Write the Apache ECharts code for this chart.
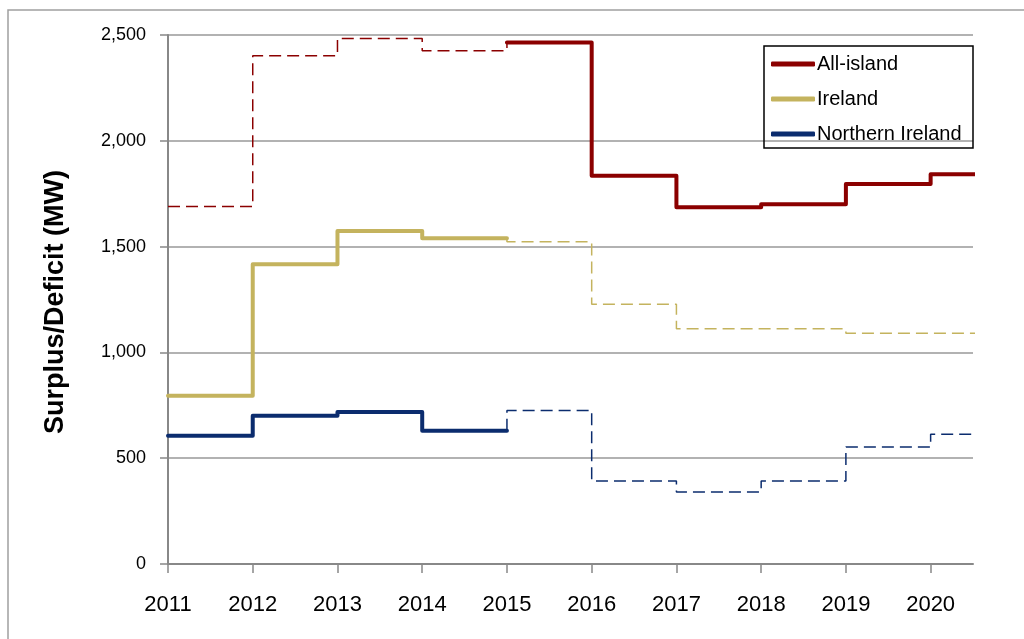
<!DOCTYPE html>
<html>
<head>
<meta charset="utf-8">
<script src="https://cdn.jsdelivr.net/npm/echarts@6/dist/echarts.min.js"></script>
<style>
html,body{margin:0;padding:0;background:#fff;}
#chart{width:1024px;height:639px;}
</style>
</head>
<body>
<div id="chart"></div>
<script>
// ---- data ----
const years = [2011, 2012, 2013, 2014, 2015, 2016, 2017, 2018, 2019, 2020];
const allIsland = [1689, 2402, 2484, 2426, 2464, 1835, 1686, 1700, 1796, 1842];
const ireland = [795, 1416, 1574, 1539, 1523, 1227, 1112, 1112, 1090, 1090];
const northernIreland = [606, 701, 718, 630, 726, 392, 340, 392, 553, 613];
const yTicks = [0, 500, 1000, 1500, 2000, 2500];
const seriesNames = ['All-island', 'Ireland', 'Northern Ireland'];
const splitYear = 2015;   // style changes here
const endYear = 2021;     // last step runs to the end of 2020
const yTitle = 'Surplus/Deficit (MW)';

const colors = ['#8B0000', '#C4B35E', '#0B2C6E'];

function points(vals) {
  const p = years.map((y, i) => [y, vals[i]]);
  p.push([endYear, vals[vals.length - 1]]);
  return p;
}
// split a step series at splitYear; verticalFirst: vertical jump belongs to first part
function split(vals, verticalFirst) {
  const p = points(vals);
  const k = years.indexOf(splitYear);
  let first, second;
  if (verticalFirst) {
    first = p.slice(0, k + 1);
    second = p.slice(k);
  } else {
    first = p.slice(0, k).concat([[splitYear, vals[k - 1]]]);
    second = [[splitYear, vals[k - 1]]].concat(p.slice(k));
  }
  return [first, second];
}

const [aiDash, aiSolid] = split(allIsland, true);
const [irSolid, irDash] = split(ireland, false);
const [niSolid, niDash] = split(northernIreland, false);

function solid(name, data, color) {
  return { name, type: 'line', step: 'end', data, symbol: 'none', clip: true,
    lineStyle: { color, width: 4, cap: 'round', join: 'round' }, itemStyle: { color }, z: 3 };
}
function dashed(name, data, color) {
  return { name, type: 'line', step: 'end', data, symbol: 'none', clip: true,
    lineStyle: { color, width: 1.5, type: [12, 6] }, itemStyle: { color }, z: 2 };
}

const tickFont = '"Liberation Sans", Arial, sans-serif';

const chart = echarts.init(document.getElementById('chart'), null, { renderer: 'canvas' });
chart.setOption({
  animation: false,
  backgroundColor: '#fff',
  grid: { left: 168, right: 51, top: 35, bottom: 75, containLabel: false },
  xAxis: {
    type: 'value', min: 2011, max: 2020.5, interval: 1,
    axisLine: { show: true, lineStyle: { color: '#888', width: 2 } },
    axisTick: { show: true, customValues: years, length: 9, inside: false, lineStyle: { color: '#888', width: 1.5 } },
    axisLabel: { customValues: years, formatter: v => String(v), color: '#000', fontSize: 22, fontFamily: tickFont, margin: 30 },
    splitLine: { show: false }
  },
  yAxis: {
    type: 'value', min: 0, max: 2500, interval: 500,
    axisLine: { show: true, lineStyle: { color: '#888', width: 2 } },
    axisTick: { show: true, length: 8, lineStyle: { color: '#888', width: 1.5 } },
    axisLabel: { formatter: v => v.toLocaleString('en-US'), color: '#000', fontSize: 18, fontFamily: tickFont, margin: 22 },
    splitLine: { show: true, lineStyle: { color: '#999', width: 1.5 } }
  },
  legend: {
    data: seriesNames.map(n => ({ name: n, icon: 'roundRect' })),
    orient: 'vertical', left: 771, top: 53,
    itemWidth: 44, itemHeight: 5, itemGap: 13,
    textStyle: { color: '#000', fontSize: 20, fontFamily: '"Liberation Sans", Arial, sans-serif', lineHeight: 22, padding: [0,0,0,-3] },
    padding: 0
  },
  graphic: [
    { type: 'rect', shape: { x: 8, y: 10, width: 1100, height: 700 }, style: { fill: 'none', stroke: '#a0a0a0', lineWidth: 1.5 }, silent: true, z: -1 },
    { type: 'rect', shape: { x: 764, y: 46, width: 209, height: 102 }, style: { fill: 'none', stroke: '#000', lineWidth: 1.5 }, silent: true, z: 5 },
    { type: 'text', x: 56, y: 302, rotation: Math.PI / 2,
      style: { text: yTitle, font: 'bold 27px "Liberation Sans", Arial, sans-serif', fill: '#000', textAlign: 'center', textVerticalAlign: 'middle' }, z: 5 }
  ],
  series: [
    solid(seriesNames[0], aiSolid, colors[0]),
    dashed(seriesNames[0] + ' (dashed)', aiDash, colors[0]),
    solid(seriesNames[1], irSolid, colors[1]),
    dashed(seriesNames[1] + ' (dashed)', irDash, colors[1]),
    solid(seriesNames[2], niSolid, colors[2]),
    dashed(seriesNames[2] + ' (dashed)', niDash, colors[2])
  ]
});
</script>
</body>
</html>
